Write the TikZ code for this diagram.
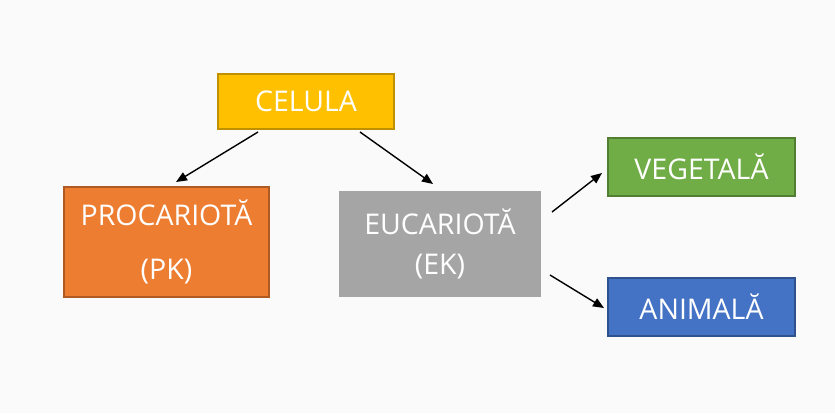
\documentclass[tikz,border=0pt]{standalone}
\usepackage{fontspec}
\setmainfont{Open Sans}
\usetikzlibrary{arrows.meta}
\definecolor{bg}{HTML}{FAFAFA}
\definecolor{yel}{HTML}{FFC000}\definecolor{yelb}{HTML}{BF9000}
\definecolor{ora}{HTML}{ED7D31}\definecolor{orab}{HTML}{AE5A21}
\definecolor{gry}{HTML}{A5A5A5}
\definecolor{grn}{HTML}{70AD47}\definecolor{grnb}{HTML}{507E32}
\definecolor{blu}{HTML}{4472C4}\definecolor{blub}{HTML}{2F528F}
\begin{document}
\begin{tikzpicture}[x=1pt,y=-1pt,
  box/.style={rectangle,inner sep=0pt,text=white,align=center,line width=1.6pt,
    font=\fontsize{28.5}{40}\selectfont},
  arr/.style={line width=1.4pt,-{Triangle[length=11pt,width=9pt]}}]
\fill[bg] (0,0) rectangle (835,413);
\useasboundingbox (0,0) rectangle (835,413);
\node[box,fill=yel,draw=yelb,minimum width=176pt,minimum height=55pt] (cel) at (306,101.5) {CELULA};
\node[box,fill=ora,draw=orab,minimum width=205pt,minimum height=110pt] (pro) at (166.5,242) {PROCARIOTĂ\\[14pt](PK)};
\node[box,fill=gry,minimum width=202pt,minimum height=106pt,line width=0pt] (euc) at (440,244) {EUCARIOTĂ\\(EK)};
\node[box,fill=grn,draw=grnb,minimum width=187pt,minimum height=58pt] (veg) at (701.5,167) {VEGETALĂ};
\node[box,fill=blu,draw=blub,minimum width=187pt,minimum height=58pt] (ani) at (701.5,307) {ANIMALĂ};
\coordinate (a1s) at (258,132); \coordinate (a1e) at (176,182);
\coordinate (a2s) at (360,132); \coordinate (a2e) at (433,184);
\coordinate (a3s) at (552,212); \coordinate (a3e) at (602,173);
\coordinate (a4s) at (550,275); \coordinate (a4e) at (604,308);
\draw[arr] (a1s) -- (a1e);
\draw[arr] (a2s) -- (a2e);
\draw[arr] (a3s) -- (a3e);
\draw[arr] (a4s) -- (a4e);
\end{tikzpicture}
\end{document}
